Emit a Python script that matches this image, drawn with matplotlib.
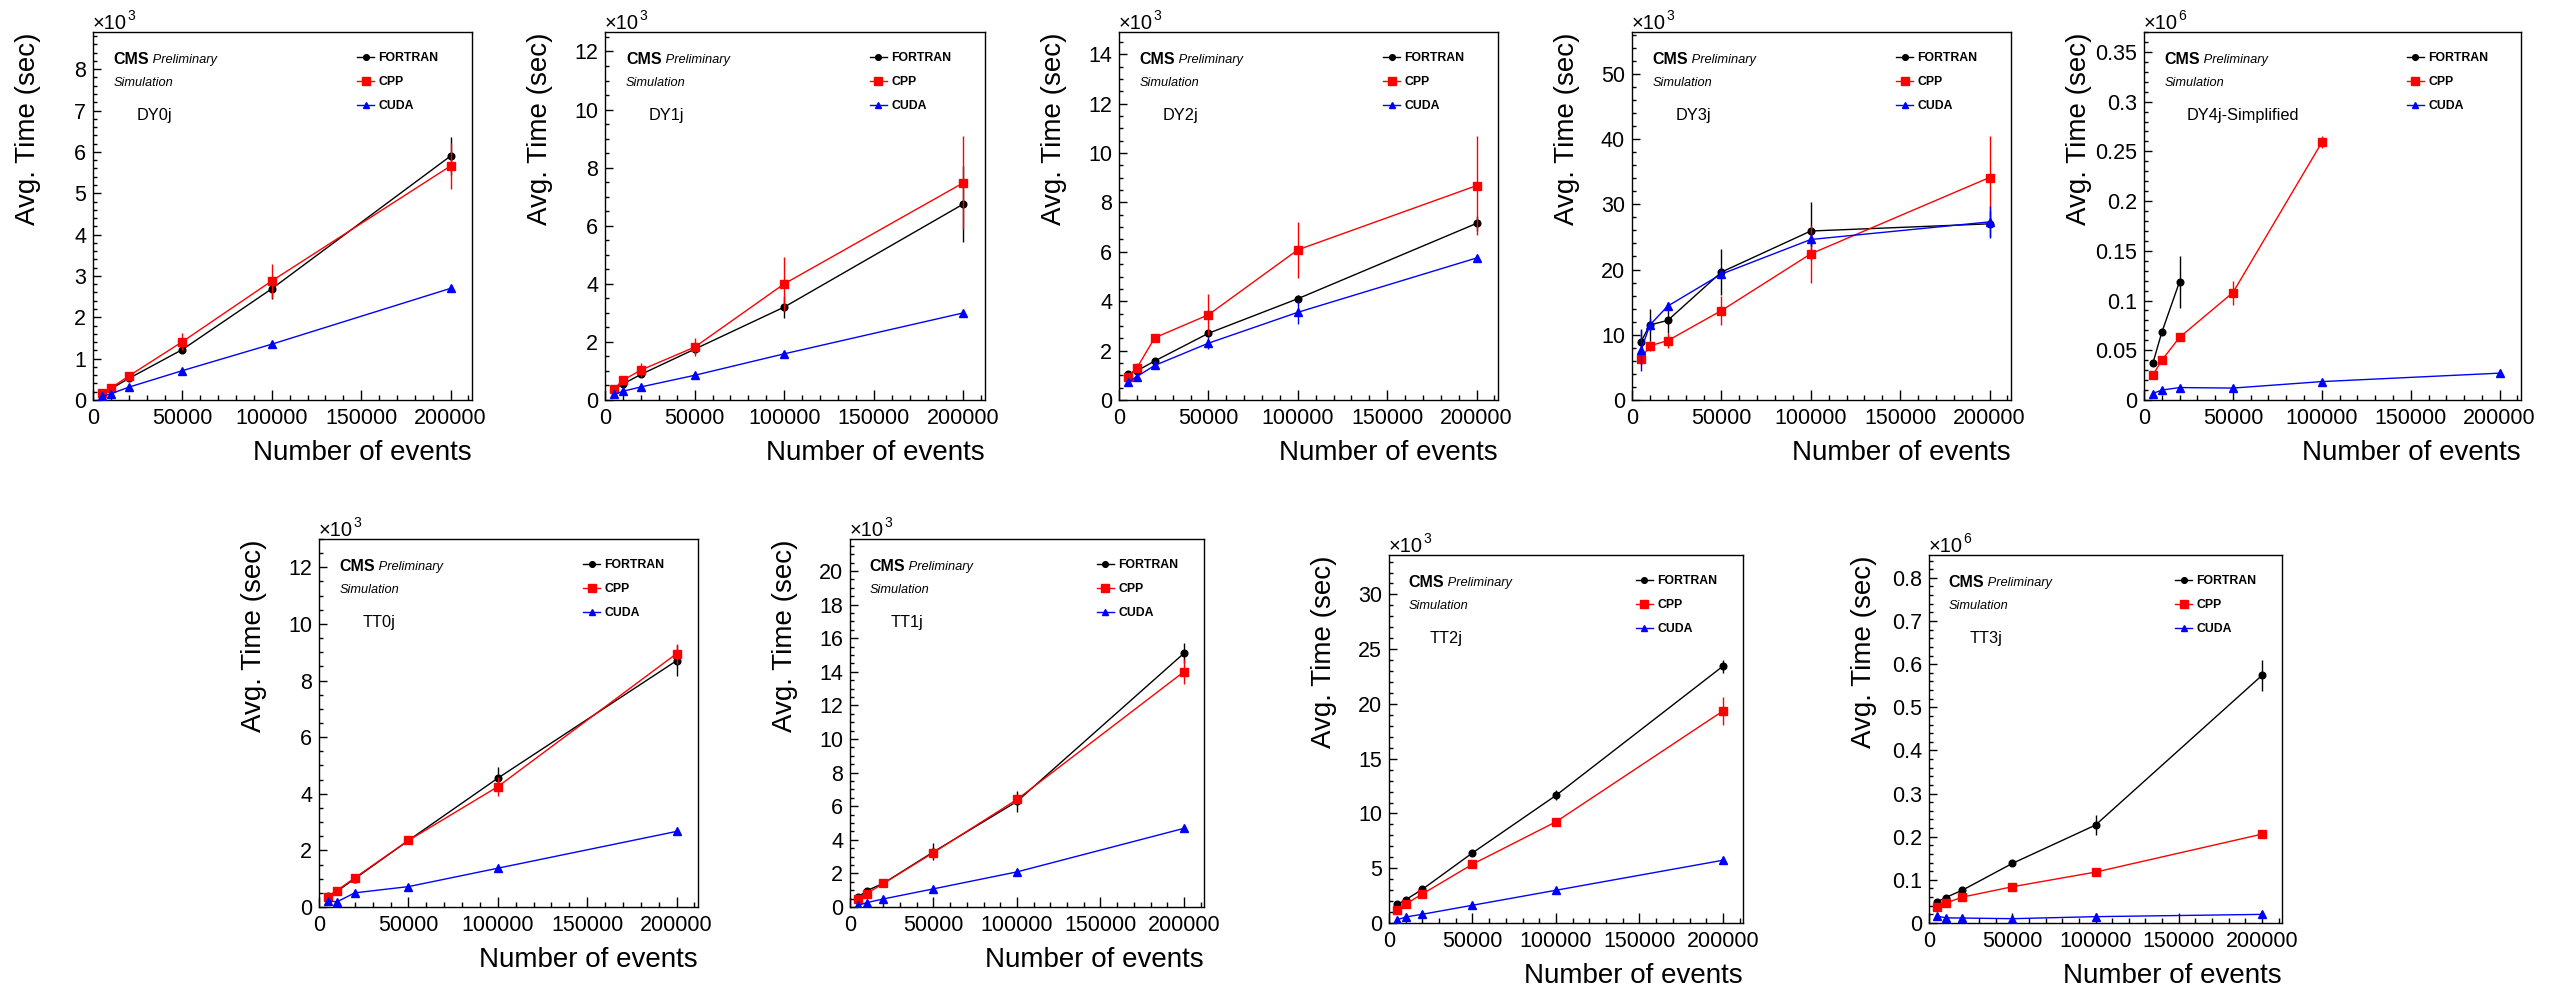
import numpy as np
import matplotlib
matplotlib.use("Agg")
import matplotlib.pyplot as plt
from matplotlib.ticker import MultipleLocator, FuncFormatter

plt.rcParams['font.family'] = ['Liberation Sans', 'DejaVu Sans']

nan = np.nan
events = [5000, 10000, 20000, 50000, 100000, 200000]
series_names = ["FORTRAN", "CPP", "CUDA"]
process_labels = ["DY0j", "DY1j", "DY2j", "DY3j", "DY4j-Simplified",
                  "TT0j", "TT1j", "TT2j", "TT3j"]
exponents = [3, 3, 3, 3, 6, 3, 3, 3, 6]

# values in displayed units (x10^exponent sec)
fortran = [
    [0.15, 0.27, 0.52, 1.22, 2.69, 5.90],
    [0.35, 0.55, 0.88, 1.75, 3.20, 6.75],
    [1.05, 1.18, 1.58, 2.70, 4.10, 7.15],
    [8.9, 11.5, 12.2, 19.6, 25.9, 27.0],
    [0.037, 0.068, 0.119, nan, nan, nan],
    [0.40, 0.55, 1.00, 2.35, 4.55, 8.70],
    [0.60, 0.97, 1.41, 3.28, 6.28, 15.1],
    [1.70, 2.12, 3.08, 6.40, 11.65, 23.45],
    [0.049, 0.059, 0.076, 0.138, 0.227, 0.574],
]
fortran_err = [
    [0.03, 0.04, 0.06, 0.08, 0.25, 0.47],
    [0.05, 0.08, 0.10, 0.15, 0.38, 1.30],
    [0.10, 0.10, 0.10, 0.15, 0.15, 0.30],
    [2.0, 2.4, 2.0, 3.5, 4.4, 2.0],
    [0.002, 0.003, 0.026, nan, nan, nan],
    [0.05, 0.05, 0.05, 0.10, 0.40, 0.55],
    [0.10, 0.10, 0.10, 0.50, 0.64, 0.60],
    [0.10, 0.10, 0.15, 0.20, 0.45, 0.60],
    [0.003, 0.003, 0.004, 0.004, 0.023, 0.036],
]
cpp = [
    [0.16, 0.29, 0.58, 1.41, 2.88, 5.66],
    [0.38, 0.68, 1.03, 1.82, 4.00, 7.48],
    [0.95, 1.30, 2.52, 3.45, 6.08, 8.68],
    [6.3, 8.3, 9.1, 13.7, 22.4, 34.1],
    [0.025, 0.040, 0.063, 0.108, 0.259, nan],
    [0.37, 0.58, 1.03, 2.35, 4.25, 8.95],
    [0.50, 0.80, 1.40, 3.24, 6.40, 14.0],
    [1.22, 1.74, 2.65, 5.37, 9.24, 19.36],
    [0.036, 0.046, 0.060, 0.084, 0.118, 0.206],
]
cpp_err = [
    [0.03, 0.04, 0.05, 0.20, 0.42, 0.55],
    [0.05, 0.10, 0.25, 0.30, 0.94, 1.60],
    [0.10, 0.20, 0.10, 0.83, 1.13, 2.00],
    [1.0, 0.8, 1.2, 2.2, 4.4, 6.3],
    [0.002, 0.002, 0.003, 0.012, 0.006, nan],
    [0.05, 0.05, 0.05, 0.10, 0.33, 0.35],
    [0.10, 0.10, 0.10, 0.30, 0.30, 0.75],
    [0.15, 0.15, 0.20, 0.20, 0.20, 1.30],
    [0.003, 0.003, 0.003, 0.003, 0.004, 0.005],
]
cuda = [
    [0.09, 0.15, 0.31, 0.71, 1.35, 2.70],
    [0.19, 0.30, 0.45, 0.85, 1.59, 3.00],
    [0.72, 0.95, 1.40, 2.30, 3.55, 5.75],
    [7.6, 11.5, 14.4, 19.3, 24.6, 27.3],
    [0.0065, 0.010, 0.0125, 0.012, 0.0185, 0.027],
    [0.22, 0.18, 0.50, 0.72, 1.37, 2.67],
    [0.10, 0.26, 0.48, 1.08, 2.09, 4.68],
    [0.30, 0.55, 0.80, 1.62, 2.99, 5.73],
    [0.016, 0.012, 0.0115, 0.010, 0.0147, 0.020],
]
cuda_err = [
    [0.01, 0.01, 0.02, 0.03, 0.05, 0.05],
    [0.02, 0.03, 0.03, 0.04, 0.06, 0.08],
    [0.10, 0.10, 0.10, 0.25, 0.46, 0.10],
    [3.2, 1.0, 0.6, 0.8, 1.0, 2.5],
    [0.001, 0.001, 0.001, 0.001, 0.001, 0.001],
    [0.03, 0.03, 0.04, 0.05, 0.06, 0.08],
    [0.03, 0.04, 0.05, 0.08, 0.10, 0.12],
    [0.05, 0.05, 0.08, 0.10, 0.12, 0.20],
    [0.001, 0.001, 0.001, 0.001, 0.001, 0.002],
]

# layout (pixel boxes: left, right, top, bottom) and axis settings
W, H = 2566, 991
boxes = [
    (93, 472, 32, 400), (605, 985, 32, 400), (1119, 1498, 32, 400),
    (1632, 2011, 32, 400), (2144, 2521, 32, 400),
    (319, 698, 539, 907), (850, 1204, 539, 907),
    (1389, 1743, 555, 923), (1929, 2282, 555, 923),
]
ymax = [8.9, 12.67, 14.9, 56.4, 0.37, 13.0, 21.9, 33.6, 0.853]
ymajor = [1, 2, 2, 10, 0.05, 2, 2, 5, 0.1]
yminor = [0.2, 0.5, 0.5, 2, 0.01, 0.5, 0.5, 1, 0.02]
XMAX = 212000

colors = ["black", "#ff0000", "#0000ff"]
markers = ["o", "s", "^"]
msizes = [4.8, 6.2, 5.4]

fig = plt.figure(figsize=(W / 100, H / 100), dpi=100)


def fmt(v, pos):
    return f"{v:.10g}"


for i in range(9):
    l, r, t, b = boxes[i]
    ax = fig.add_axes([l / W, 1 - b / H, (r - l) / W, (b - t) / H])
    ys = [fortran[i], cpp[i], cuda[i]]
    es = [fortran_err[i], cpp_err[i], cuda_err[i]]
    handles = []
    for k in range(3):
        y = np.array(ys[k], dtype=float)
        e = np.array(es[k], dtype=float)
        ax.errorbar(events, y, yerr=e, fmt="none", ecolor=colors[k],
                    elinewidth=1.0, capsize=0, zorder=2 + k)
        ln, = ax.plot(events, y, color=colors[k], lw=1.0, marker=markers[k],
                      ms=msizes[k], mec=colors[k], mfc=colors[k], zorder=2.5 + k)
        handles.append(ln)

    ax.set_xlim(0, XMAX)
    ax.set_ylim(0, ymax[i])
    ax.xaxis.set_major_locator(MultipleLocator(50000))
    ax.xaxis.set_minor_locator(MultipleLocator(10000))
    ax.yaxis.set_major_locator(MultipleLocator(ymajor[i]))
    ax.yaxis.set_minor_locator(MultipleLocator(yminor[i]))
    ax.xaxis.set_major_formatter(FuncFormatter(fmt))
    ax.yaxis.set_major_formatter(FuncFormatter(fmt))
    ax.tick_params(which="both", direction="in", top=False, right=False,
                   width=1.0, labelsize=15.5)
    ax.tick_params(axis="x", which="major", length=7, pad=6)
    ax.tick_params(axis="x", which="minor", length=3.5)
    ax.tick_params(axis="y", which="major", length=6, pad=5)
    ax.tick_params(axis="y", which="minor", length=3)
    for sp in ax.spines.values():
        sp.set_linewidth(1.0)

    # axis titles
    ax.annotate("Avg. Time (sec)", xy=(0, 1), xycoords="axes fraction",
                xytext=(-65, 0), textcoords="offset pixels", rotation=90,
                ha="center", va="top", fontsize=20)
    ax.annotate("Number of events", xy=(1, 0), xycoords="axes fraction",
                xytext=(0, -53), textcoords="offset pixels",
                ha="right", va="center", fontsize=20)

    # multiplier
    mt = ax.annotate("\u00d710", xy=(0, 1), xycoords="axes fraction",
                     xytext=(0, 3), textcoords="offset pixels",
                     ha="left", va="baseline", fontsize=14.5)
    ax.annotate(str(exponents[i]), xy=(1, 0.55), xycoords=mt,
                ha="left", va="bottom", fontsize=10)

    # CMS labels
    cms = ax.text(0.055, 0.925, "CMS", transform=ax.transAxes, fontsize=11.5,
                  fontweight="bold", ha="left", va="center")
    ax.annotate(" Preliminary", xy=(1, 0.5), xycoords=cms, ha="left",
                va="center", fontsize=9.3, style="italic")
    ax.text(0.055, 0.861, "Simulation", transform=ax.transAxes, fontsize=9.2,
            style="italic", ha="left", va="center")
    ax.text(0.114, 0.773, process_labels[i], transform=ax.transAxes,
            fontsize=11.8, ha="left", va="center")

    ax.legend(handles, series_names, loc="upper left",
              bbox_to_anchor=(0.697, 0.946), frameon=False, borderpad=0,
              borderaxespad=0, handlelength=1.4, handletextpad=0.35,
              labelspacing=1.0, prop={"weight": "bold", "size": 8.8},
              numpoints=1, markerscale=0.85)

fig.savefig("out.png", dpi=100)
